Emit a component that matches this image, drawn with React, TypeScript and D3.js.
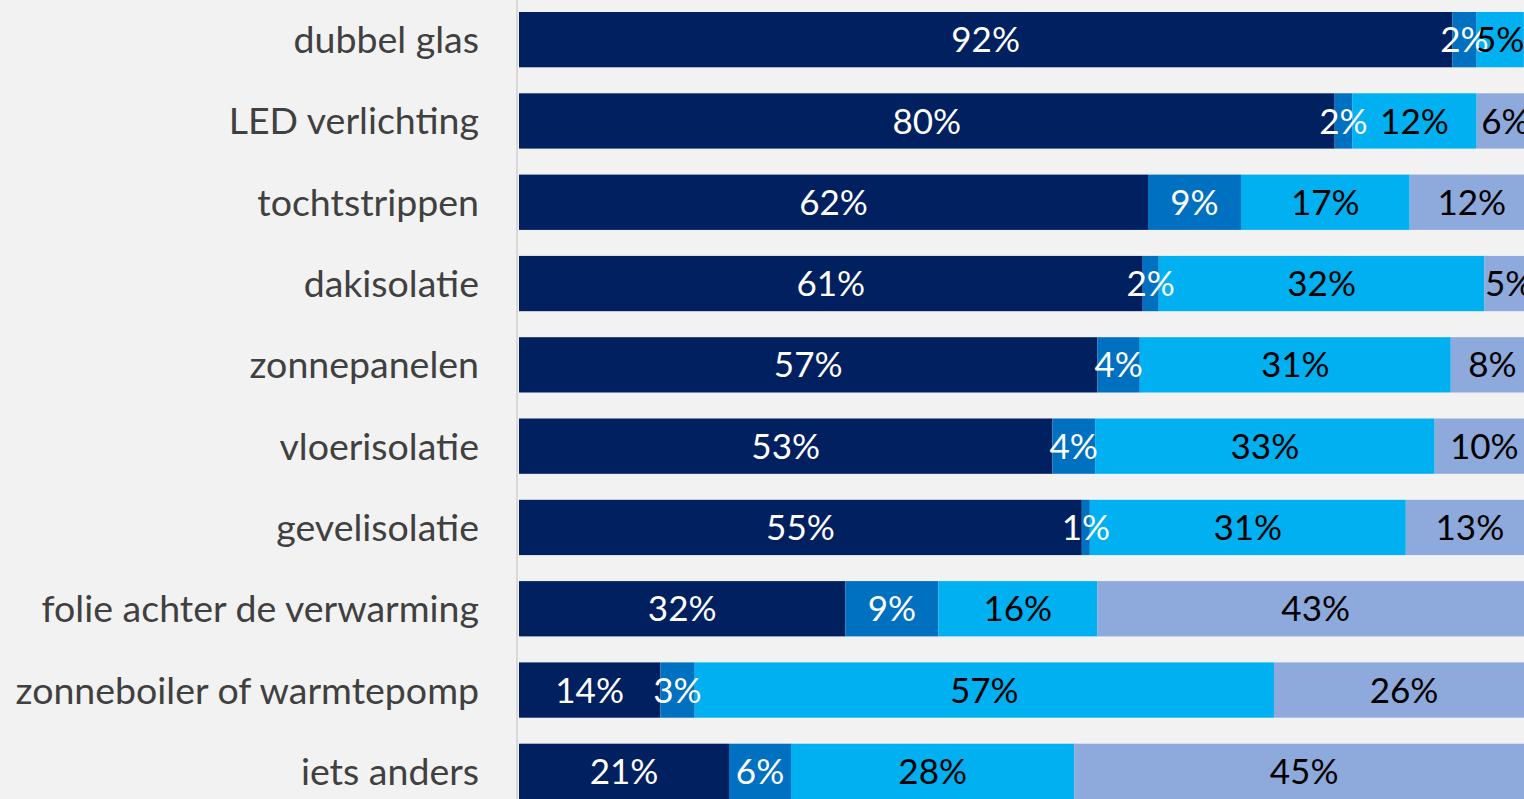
import * as d3 from 'd3';

// categories (top to bottom)
const categories = [
  'dubbel glas',
  'LED verlichting',
  'tochtstrippen',
  'dakisolatie',
  'zonnepanelen',
  'vloerisolatie',
  'gevelisolatie',
  'folie achter de verwarming',
  'zonneboiler of warmtepomp',
  'iets anders',
];

// series values in percent, one array per series
const reeks1 = [91.95, 80.36, 61.97, 61.45, 56.98, 52.55, 55.45, 32.15, 13.92, 20.69];
const reeks2 = [2.4, 1.73, 9.16, 1.58, 4.18, 4.21, 0.79, 9.16, 3.39, 6.11];
const reeks3 = [4.65, 12.26, 16.62, 32.09, 30.64, 33.45, 31.13, 15.67, 57.07, 27.91];
const reeks4 = [0, 5.65, 12.25, 4.88, 8.2, 9.79, 12.63, 43.02, 25.62, 45.29];

const seriesKeys = ['reeks1', 'reeks2', 'reeks3', 'reeks4'];
const seriesColors = ['#002060', '#0070C0', '#00B0F0', '#8EA9DB'];
const labelColors = ['#ffffff', '#ffffff', '#000000', '#000000'];

const width = 1524;
const height = 799;

export default function App() {
  const table = categories.map((c, i) => ({
    cat: c,
    reeks1: reeks1[i],
    reeks2: reeks2[i],
    reeks3: reeks3[i],
    reeks4: reeks4[i],
  }));

  const stacked = d3.stack().keys(seriesKeys)(table);

  const x = d3.scaleLinear().domain([0, 100]).range([519, 1534]);
  const y = d3.scaleBand()
    .domain(categories)
    .range([-1, 812])
    .paddingInner(0.32)
    .paddingOuter(0.16);

  const fmt = (v) => Math.round(v) + '%';
  const font = "Lato, 'Noto Sans', sans-serif";

  return (
    <svg
      width={width}
      height={height}
      style={{ position: 'absolute', left: 0, top: 0, display: 'block' }}
    >
      <rect x={0} y={0} width={width} height={height} fill="#f2f2f2" />

      {categories.map((c) => (
        <text
          key={c}
          x={479}
          y={y(c) + y.bandwidth() / 2}
          dy="0.36em"
          textAnchor="end"
          fill="#404040"
          style={{ fontFamily: font, fontSize: 37.5 }}
        >
          {c}
        </text>
      ))}

      {stacked.map((s, si) => (
        <g key={s.key} fill={seriesColors[si]}>
          {s.map((d) => (
            <rect
              key={d.data.cat}
              x={x(d[0])}
              y={y(d.data.cat)}
              width={Math.max(0, x(d[1]) - x(d[0]))}
              height={y.bandwidth()}
            />
          ))}
        </g>
      ))}

      {stacked.map((s, si) => (
        <g key={s.key + '-lbl'}>
          {s.filter((d) => d[1] - d[0] > 0).map((d) => (
            <text
              key={d.data.cat}
              x={(x(d[0]) + x(d[1])) / 2}
              y={y(d.data.cat) + y.bandwidth() / 2}
              dy="0.36em"
              textAnchor="middle"
              fill={labelColors[si]}
              style={{ fontFamily: font, fontSize: 35 }}
            >
              {fmt(d[1] - d[0])}
            </text>
          ))}
        </g>
      ))}

      <line x1={517} x2={517} y1={0} y2={height} stroke="#d9d9d9" strokeWidth={2} />
    </svg>
  );
}
